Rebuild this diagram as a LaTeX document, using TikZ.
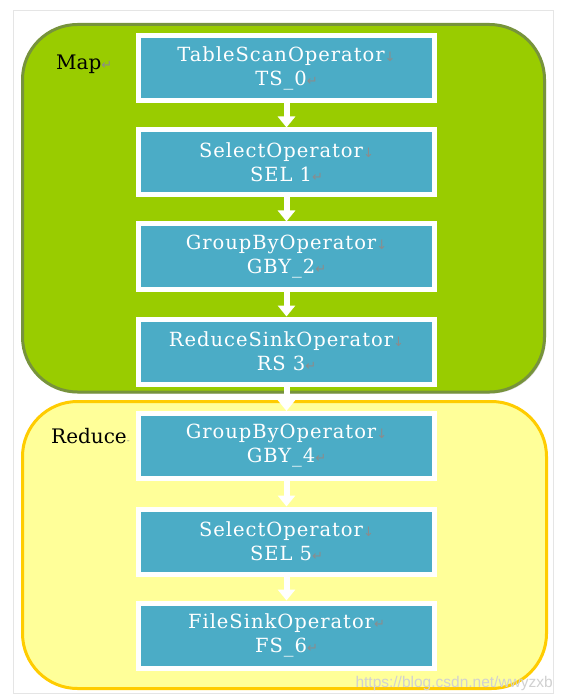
\documentclass[tikz,border=0pt]{standalone}
\usepackage{fontspec}
\setmainfont{DejaVu Serif}
\newfontfamily\symfont{DejaVu Sans}
\newfontfamily\wmfont{Liberation Sans}
\newfontfamily\opfont[LetterSpace=5]{DejaVu Serif}
\usetikzlibrary{arrows.meta,shadows}
\definecolor{opblue}{HTML}{4BACC6}
\definecolor{mapfill}{HTML}{99CC00}
\definecolor{mapdraw}{HTML}{77933C}
\definecolor{redfill}{HTML}{FFFF99}
\definecolor{reddraw}{HTML}{FFCC00}
\definecolor{markgray}{HTML}{8C8C8C}
\newcommand{\dmark}{{\symfont\fontsize{13}{13}\selectfont\textcolor{markgray}{↓}}}
\newcommand{\rmark}{{\symfont\fontsize{13}{13}\selectfont\textcolor{markgray}{↵}}}
\tikzset{
  opbox/.style={fill=opblue, draw=white, line width=5pt, minimum width=296pt, minimum height=65pt,
    text=white, align=center, font=\opfont\fontsize{19.5}{24}\selectfont, inner sep=0pt,
    drop shadow={shadow xshift=1.5pt, shadow yshift=-1.5pt, opacity=0.35}},
  flow/.style={draw=white, line width=6pt, -{Triangle[width=17pt,length=11pt]}},
  region/.style={rounded corners=55pt, line width=3pt},
  lbl/.style={anchor=west, inner sep=0pt, font=\fontsize{20}{20}\selectfont, text=black}
}
\begin{document}
\begin{tikzpicture}[x=1pt,y=-1pt]
\useasboundingbox (0,0) rectangle (561,700);
\fill[white] (0,0) rectangle (561,700);
\node[draw=black!10, fill=white, minimum width=540pt, minimum height=683pt, inner sep=0pt,
  drop shadow={shadow xshift=1pt, shadow yshift=-1pt, opacity=0.15}] (card) at (283,351.5) {};
\draw[region, fill=mapfill, draw=mapdraw, drop shadow={shadow xshift=1.5pt, shadow yshift=-1.5pt, opacity=0.3}] (22.5,24.5) rectangle (544.5,392);
\draw[region, fill=redfill, draw=reddraw] (22.5,401.5) rectangle (546.5,688.5);
\node[lbl] (maplbl) at (56,64) {Map\rmark};
\node[lbl] (redlbl) at (51,436) {Reduce{\symfont\fontsize{8}{8}\selectfont\textcolor{markgray}{-}}};
\node[opbox] (ts) at (286.5,68) {TableScanOperator\dmark\\TS\_0\rmark};
\node[opbox] (sel1) at (286.5,162.5) {SelectOperator\dmark\\SEL 1\rmark};
\node[opbox] (gby2) at (286.5,256.5) {GroupByOperator\dmark\\GBY\_2\rmark};
\node[opbox] (rs) at (286.5,351.5) {ReduceSinkOperator\dmark\\RS 3\rmark};
\node[opbox] (gby4) at (286.5,446) {GroupByOperator\dmark\\GBY\_4\rmark};
\node[opbox] (sel5) at (286.5,541.5) {SelectOperator\dmark\\SEL 5\rmark};
\node[opbox] (fs) at (286.5,635.5) {FileSinkOperator\rmark\\FS\_6\rmark};
\draw[flow] (ts.south) -- (sel1.north);
\draw[flow] (sel1.south) -- (gby2.north);
\draw[flow] (gby2.south) -- (rs.north);
\draw[flow] (rs.south) -- (gby4.north);
\draw[flow] (gby4.south) -- (sel5.north);
\draw[flow] (sel5.south) -- (fs.north);
\node[anchor=east, inner sep=0pt, font=\wmfont\fontsize{15.5}{15.5}\selectfont, text=black!18] (wm) at (553,683) {https://blog.csdn.net/wwyzxb};
\end{tikzpicture}
\end{document}
